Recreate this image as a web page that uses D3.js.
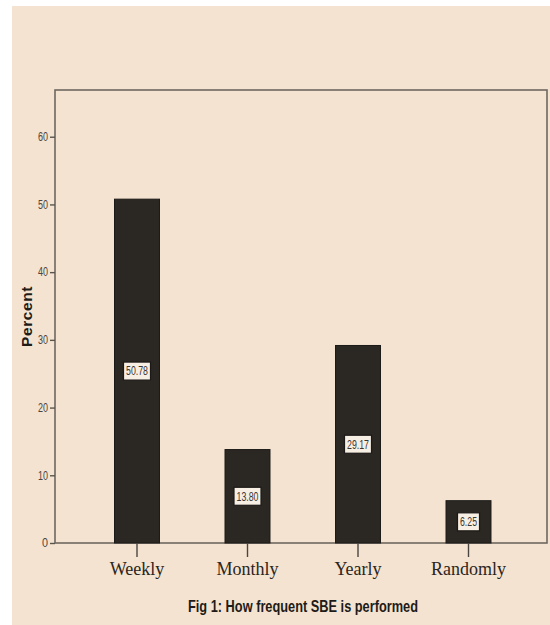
<!DOCTYPE html>
<html>
<head>
<meta charset="utf-8">
<script src="https://cdn.jsdelivr.net/npm/d3@7"></script>
<style>
  html, body { margin: 0; padding: 0; background: #ffffff; }
  svg { display: block; }
</style>
</head>
<body>
<svg id="chart" width="550" height="625"></svg>
<script>
// Frequency of self breast examination (percent of respondents)
const categories = ["Weekly", "Monthly", "Yearly", "Randomly"];
const percents = [50.78, 13.80, 29.17, 6.25];
const yTicks = [0, 10, 20, 30, 40, 50, 60];
const yLabel = "Percent";
const caption = "Fig 1: How frequent SBE is performed";

const svg = d3.select("#chart");
const W = 550, H = 625;
const narrow = "'Liberation Sans Narrow', 'Arial Narrow', 'Liberation Sans', sans-serif";

// panel background
svg.append("rect")
  .attr("x", 12).attr("y", 6).attr("width", W - 12).attr("height", H - 6)
  .attr("fill", "#f4e3d0");

const plot = { left: 55, right: 547, top: 90, bottom: 543 };

const y = d3.scaleLinear().domain([0, 66.9]).range([plot.bottom, plot.top]);
const x = d3.scaleBand()
  .domain(categories)
  .range([81.75, 523.75])
  .paddingInner(0.593)
  .paddingOuter(0.2965);

// plot frame
svg.append("rect")
  .attr("x", plot.left).attr("y", plot.top)
  .attr("width", plot.right - plot.left).attr("height", plot.bottom - plot.top)
  .attr("fill", "none").attr("stroke", "#6e6760").attr("stroke-width", 1.6);

// bars
svg.append("g").selectAll("rect")
  .data(categories)
  .join("rect")
  .attr("x", d => x(d))
  .attr("width", x.bandwidth())
  .attr("y", (d, i) => y(percents[i]))
  .attr("height", (d, i) => y(0) - y(percents[i]))
  .attr("fill", "#2b2723")
  .attr("stroke", "#1c1a18").attr("stroke-width", 1);

// y axis
const yAxis = d3.axisLeft(y).tickValues(yTicks).tickSize(5).tickPadding(2).tickSizeOuter(0);
const gy = svg.append("g").attr("transform", `translate(${plot.left},0)`).call(yAxis);
gy.select(".domain").remove();
gy.selectAll(".tick line").attr("stroke", "#5a544f").attr("stroke-width", 1.4);
gy.selectAll(".tick text")
  .attr("fill", "#4a4540")
  .attr("font-family", narrow)
  .attr("font-size", 12)
  .attr("textLength", d => d < 10 ? 6 : 10)
  .attr("lengthAdjust", "spacingAndGlyphs");

// x axis
const xAxis = d3.axisBottom(x).tickSize(14).tickPadding(5).tickSizeOuter(0);
const gx = svg.append("g").attr("transform", `translate(0,${plot.bottom})`).call(xAxis);
gx.select(".domain").remove();
gx.selectAll(".tick line").attr("stroke", "#4a4540").attr("stroke-width", 1.4);
gx.selectAll(".tick text")
  .attr("fill", "#2a2622")
  .attr("font-family", "'Liberation Serif', 'Times New Roman', serif")
  .attr("font-size", 18);

// value labels centred in each bar
const labels = svg.append("g").selectAll("g")
  .data(categories)
  .join("g")
  .attr("transform", (d, i) => `translate(${x(d) + x.bandwidth() / 2},${(y(0) + y(percents[i])) / 2})`);

labels.append("rect")
  .attr("x", (d, i) => percents[i] >= 10 ? -13.5 : -11)
  .attr("width", (d, i) => percents[i] >= 10 ? 27 : 22)
  .attr("y", -9).attr("height", 18)
  .attr("fill", "#f8efe4")
  .attr("stroke", "#1c1a18").attr("stroke-width", 1.2);

labels.append("text")
  .attr("text-anchor", "middle")
  .attr("dy", "0.36em")
  .attr("fill", "#3a3632")
  .attr("font-family", narrow)
  .attr("font-size", 12)
  .attr("textLength", (d, i) => percents[i] >= 10 ? 22 : 17)
  .attr("lengthAdjust", "spacingAndGlyphs")
  .text((d, i) => percents[i].toFixed(2));

// y axis title
svg.append("text")
  .attr("transform", `translate(32,${(plot.top + plot.bottom) / 2}) rotate(-90)`)
  .attr("text-anchor", "middle")
  .attr("fill", "#1e1b18")
  .attr("font-family", "'Liberation Sans', Arial, sans-serif")
  .attr("font-weight", "bold")
  .attr("font-size", 15.5)
  .attr("letter-spacing", 0.6)
  .text(yLabel);

// caption
svg.append("text")
  .attr("x", 303).attr("y", 612)
  .attr("text-anchor", "middle")
  .attr("fill", "#1e1b18")
  .attr("font-family", narrow)
  .attr("font-weight", "bold")
  .attr("font-size", 16.5)
  .attr("textLength", 230)
  .attr("lengthAdjust", "spacingAndGlyphs")
  .text(caption);
</script>
</body>
</html>
